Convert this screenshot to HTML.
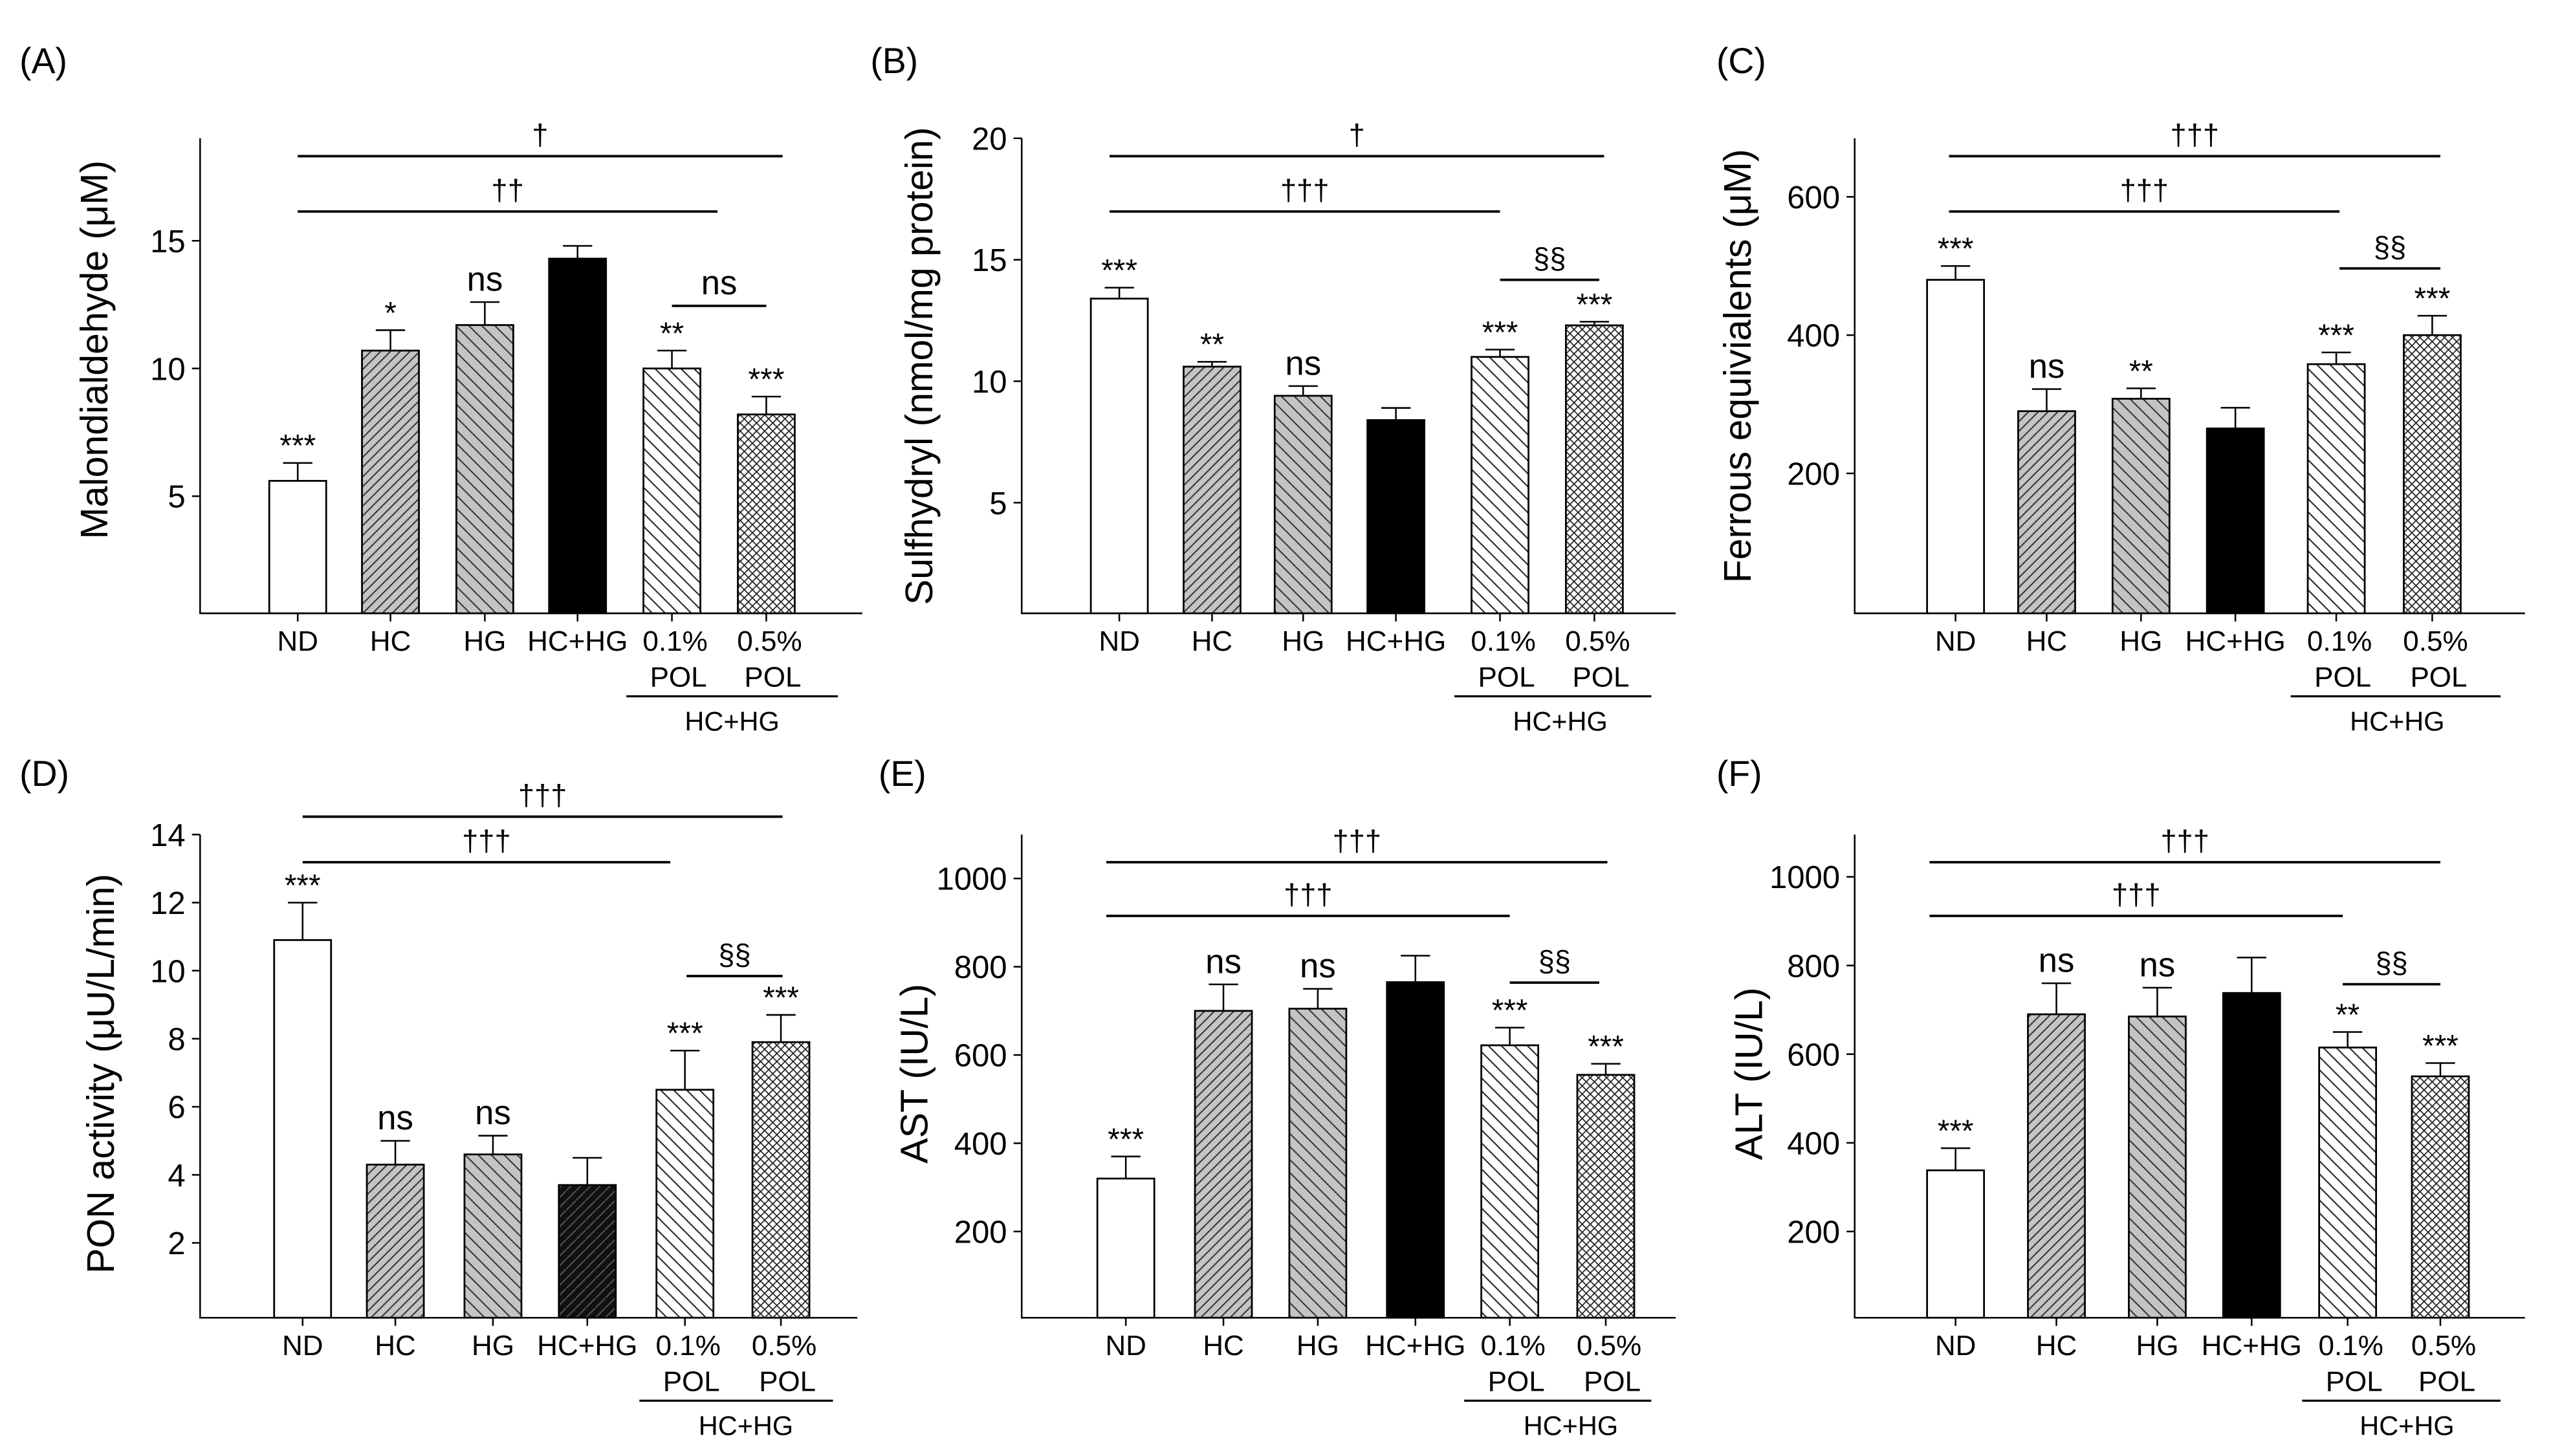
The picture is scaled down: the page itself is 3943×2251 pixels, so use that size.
<!DOCTYPE html>
<html><head><meta charset="utf-8"><style>
html,body{margin:0;padding:0;background:#fff}
svg{display:block}
text{font-family:"Liberation Sans",Arial,sans-serif;fill:#000}
</style></head><body>
<svg id="fig" width="3943" height="2251" viewBox="0 0 1568 895" preserveAspectRatio="none" xmlns="http://www.w3.org/2000/svg">
<defs>
<pattern id="pHC" patternUnits="userSpaceOnUse" width="6" height="6"><rect width="6" height="6" fill="#c4c4c4"/><path d="M-1,7 L7,-1 M-4,4 L4,-4 M2,10 L10,2" stroke="#333" stroke-width="0.8"/></pattern>
<pattern id="pHG" patternUnits="userSpaceOnUse" width="8" height="8"><rect width="8" height="8" fill="#c4c4c4"/><path d="M-1,-1 L9,9 M-5,3 L5,13 M3,-5 L13,5" stroke="#333" stroke-width="0.8"/></pattern>
<pattern id="pP1" patternUnits="userSpaceOnUse" width="8" height="8"><rect width="8" height="8" fill="#fff"/><path d="M-1,-1 L9,9 M-5,3 L5,13 M3,-5 L13,5" stroke="#222" stroke-width="0.8"/></pattern>
<pattern id="pP5" patternUnits="userSpaceOnUse" width="5" height="5"><rect width="5" height="5" fill="#fff"/><path d="M-1,-1 L6,6 M-1,6 L6,-1" stroke="#222" stroke-width="0.7"/></pattern>
<pattern id="pDk" patternUnits="userSpaceOnUse" width="6" height="6"><rect width="6" height="6" fill="#111"/><path d="M-1,7 L7,-1" stroke="#555" stroke-width="0.8"/></pattern>
</defs>
</svg>
<script>
const categories = ["ND","HC","HG","HC+HG","0.1%","0.5%"];
const valuesA = [5.6,10.7,11.7,14.3,10.0,8.2];
const errorsA = [0.7,0.8,0.9,0.5,0.7,0.7];
const sigA = ["***","*","ns","","**","***"];
const valuesB = [13.4,10.6,9.4,8.4,11.0,12.3];
const errorsB = [0.45,0.2,0.4,0.5,0.3,0.15];
const sigB = ["***","**","ns","","***","***"];
const valuesC = [480,290,308,265,358,400];
const errorsC = [20,32,15,30,17,28];
const sigC = ["***","ns","**","","***","***"];
const valuesD = [10.9,4.3,4.6,3.7,6.5,7.9];
const errorsD = [1.1,0.7,0.55,0.8,1.15,0.8];
const sigD = ["***","ns","ns","","***","***"];
const valuesE = [320,700,705,765,622,555];
const errorsE = [50,60,45,60,40,25];
const sigE = ["***","ns","ns","","***","***"];
const valuesF = [338,690,685,738,615,550];
const errorsF = [50,70,65,80,35,30];
const sigF = ["***","ns","ns","","**","***"];
const ticksA = [5,10,15];
const ticksB = [5,10,15,20];
const ticksC = [200,400,600];
const ticksD = [2,4,6,8,10,12,14];
const ticksE = [200,400,600,800,1000];
const ticksF = [200,400,600,800,1000];

const fills = ["#fff","url(#pHC)","url(#pHG)","#000","url(#pP1)","url(#pP5)"];
const NS = "http://www.w3.org/2000/svg";
const svg = document.getElementById("fig");
function mk(tag, attrs, parent, txt){
  const e = document.createElementNS(NS, tag);
  for (const k in attrs) e.setAttribute(k, attrs[k]);
  if (txt !== undefined) e.textContent = txt;
  (parent || svg).appendChild(e);
  return e;
}

function panel(cfg){
  const g = mk("g", {});
  
  
  const y = v => cfg.p0 + (v - cfg.v0) * (cfg.p1 - cfg.p0) / (cfg.v1 - cfg.v0);
  const lab = mk("text", {x: cfg.lx, y: cfg.ly, "font-size": 22}, g, "(" + cfg.id + ")");
  
  
  const ax = mk("path", {d: `M${cfg.ax},${cfg.top} V${cfg.bot} H${cfg.axEnd}`, stroke: "#000", fill: "none", "stroke-width": 1}, g);
  
  
  cfg.ticks.forEach(t => {
    mk("line", {x1: cfg.ax - 5, x2: cfg.ax, y1: y(t), y2: y(t), stroke: "#000", "stroke-width": 1}, g);
    const tl = mk("text", {x: cfg.ax - 9, y: y(t) + 7, "font-size": 19.5, "text-anchor": "end"}, g, String(t));
    
    
  });
  const yl = mk("text", {x: 0, y: 0, "font-size": 23.5, "text-anchor": "middle", transform: `translate(${cfg.ylx},${cfg.yly}) rotate(-90)`}, g, cfg.ylabel);
  
  
  const bw = 35;
  cfg.values.forEach((v, i) => {
    const cx = cfg.centers[i];
    const top = y(v), et = y(v + cfg.errors[i]);
    mk("line", {x1: cx, x2: cx, y1: top, y2: et, stroke: "#000", "stroke-width": 1}, g);
    mk("line", {x1: cx - 9, x2: cx + 9, y1: et, y2: et, stroke: "#000", "stroke-width": 1}, g);
    const fill = (i === 3 && cfg.darkHatch) ? "url(#pDk)" : fills[i];
    const r = mk("rect", {x: cx - bw/2, y: top, width: bw, height: cfg.bot - top, fill: fill, stroke: "#000", "stroke-width": 1.1}, g);
    
    
    mk("line", {x1: cx, x2: cx, y1: cfg.bot, y2: cfg.bot + 5, stroke: "#000", "stroke-width": 1}, g);
    if (cfg.sig[i]) {
      const isNs = cfg.sig[i] === "ns";
      const s = mk("text", {x: cx, y: et - (isNs ? 7 : 4), "font-size": isNs ? 21 : 19, "text-anchor": "middle"}, g, cfg.sig[i]);
      
      
    }
    const xl = mk("text", {x: cx + (i >= 4 ? 2 : 0), y: cfg.bot + 23, "font-size": 17.5, "text-anchor": "middle"}, g, categories[i]);
    
    
    if (i >= 4) mk("text", {x: cx + 4, y: cfg.bot + 45, "font-size": 17.5, "text-anchor": "middle"}, g, "POL");
  });
  mk("line", {x1: cfg.centers[4] - 28, x2: cfg.axEnd - 15, y1: cfg.bot + 51, y2: cfg.bot + 51, stroke: "#000", "stroke-width": 1.3}, g);
  const gl = mk("text", {x: (cfg.centers[4] + cfg.centers[5]) / 2 + 8, y: cfg.bot + 72, "font-size": 16.5, "text-anchor": "middle"}, g, "HC+HG");
  
  
  cfg.brackets.forEach(b => {
    const l = mk("line", {x1: b[0], x2: b[1], y1: b[2], y2: b[2], stroke: "#000", "stroke-width": 1.5}, g);
    
    
    mk("text", {x: (b[0] + b[1]) / 2, y: b[2] - 7, "font-size": b[3] === "ns" ? 21 : 18, "text-anchor": "middle"}, g, b[3]);
  });
}

panel({id:"A", lx:12, ly:45, ax:123, axEnd:530, top:85, bot:377, v0:5, p0:305, v1:15, p1:148,
  ticks:ticksA, values:valuesA, errors:errorsA, sig:sigA, centers:[183,240,298,355,413,471],
  ylabel:"Malondialdehyde (μM)", ylx:66, yly:215,
  brackets:[[183,481,96,"†"],[183,441,130,"††"],[413,471,188,"ns"]]});
panel({id:"B", lx:535, ly:45, ax:628, axEnd:1030, top:85, bot:377, v0:5, p0:309, v1:20, p1:85,
  ticks:ticksB, values:valuesB, errors:errorsB, sig:sigB, centers:[688,745,801,858,922,980],
  ylabel:"Sulfhydryl (nmol/mg protein)", ylx:573, yly:225,
  brackets:[[682,986,96,"†"],[682,922,130,"†††"],[922,983,172,"§§"]]});
panel({id:"C", lx:1055, ly:45, ax:1140, axEnd:1552, top:85, bot:377, v0:200, p0:291, v1:600, p1:121,
  ticks:ticksC, values:valuesC, errors:errorsC, sig:sigC, centers:[1202,1258,1316,1374,1436,1495],
  ylabel:"Ferrous equivialents (μM)", ylx:1076, yly:225,
  brackets:[[1198,1500,96,"†††"],[1198,1438,130,"†††"],[1438,1500,165,"§§"]]});
panel({id:"D", lx:12, ly:483, ax:123, axEnd:527, top:513, bot:810, v0:2, p0:764, v1:14, p1:513, darkHatch:true,
  ticks:ticksD, values:valuesD, errors:errorsD, sig:sigD, centers:[186,243,303,361,421,480],
  ylabel:"PON activity (μU/L/min)", ylx:70, yly:660,
  brackets:[[186,481,502,"†††"],[186,412,530,"†††"],[422,481,600,"§§"]]});
panel({id:"E", lx:540, ly:483, ax:628, axEnd:1030, top:513, bot:810, v0:200, p0:757, v1:1000, p1:540,
  ticks:ticksE, values:valuesE, errors:errorsE, sig:sigE, centers:[692,752,810,870,928,987],
  ylabel:"AST (IU/L)", ylx:570, yly:660,
  brackets:[[680,988,530,"†††"],[680,928,563,"†††"],[928,983,604,"§§"]]});
panel({id:"F", lx:1055, ly:483, ax:1140, axEnd:1552, top:513, bot:810, v0:200, p0:757, v1:1000, p1:539,
  ticks:ticksF, values:valuesF, errors:errorsF, sig:sigF, centers:[1202,1264,1326,1384,1443,1500],
  ylabel:"ALT (IU/L)", ylx:1083, yly:660,
  brackets:[[1186,1500,530,"†††"],[1186,1440,563,"†††"],[1440,1500,605,"§§"]]});
</script>
</body></html>
